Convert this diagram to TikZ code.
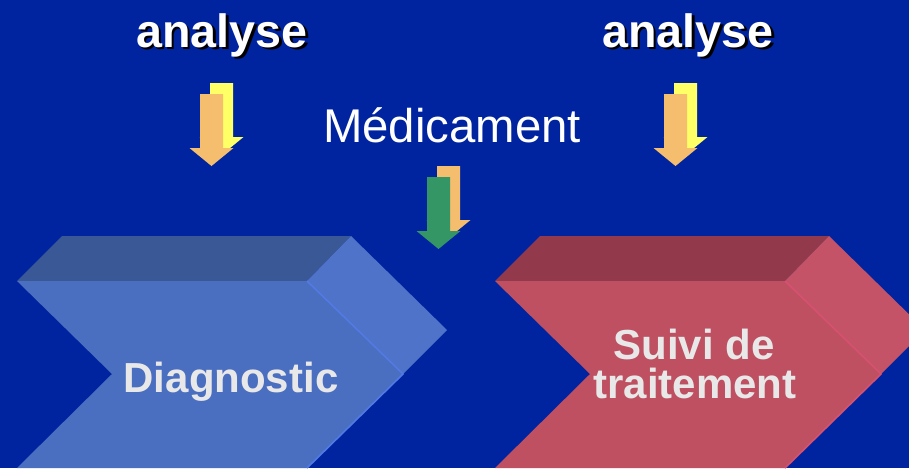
\documentclass[tikz,border=0pt]{standalone}
\usepackage{fontspec}
\setmainfont{Liberation Sans}
\usepackage{tikz}

\definecolor{fond}{RGB}{0,36,160}
\definecolor{jaune}{RGB}{255,255,102}
\definecolor{orangeclair}{RGB}{245,190,110}
\definecolor{vert}{RGB}{51,150,100}
\definecolor{bleuDessus}{RGB}{58,87,150}
\definecolor{bleuFace}{RGB}{74,110,192}
\definecolor{bleuCote}{RGB}{78,115,200}
\definecolor{bleuArete}{RGB}{82,122,228}
\definecolor{rougeDessus}{RGB}{146,58,76}
\definecolor{rougeFace}{RGB}{190,80,98}
\definecolor{rougeCote}{RGB}{197,83,103}
\definecolor{rougeArete}{RGB}{214,80,112}
\definecolor{texteClair}{RGB}{232,232,232}

% texte avec ombre portee
\newcommand{\avecombre}[1]{\makebox[0pt][l]{\hspace{1.9pt}\raisebox{-1.9pt}{\color{black}#1}}#1}

\begin{document}
\begin{tikzpicture}[x=0.75pt,y=0.75pt,yscale=-1,xscale=1,
  fleche/.pic={\path[pic actions] (0,0) -- (23,0) -- (23,-54) -- (33.5,-54) -- (11.5,-72) -- (-10.5,-54) -- (0,-54) -- cycle ;},
  titre/.style={anchor=base,inner sep=0pt,text=white,font=\bfseries\fontsize{35}{42}\selectfont},
  etape/.style={anchor=base,inner sep=0pt,text=texteClair,font=\bfseries\fontsize{31.5}{36}\selectfont}]

%set diagram left start at 0, and has height of 468
\useasboundingbox (0,0) rectangle (909,468);
\fill[fond] (0,0) rectangle (909,468);
\clip (0,0) rectangle (909,468);

%Shape: Chevron Diagnostic
\fill[bleuDessus] (17,281) -- (62,236) -- (351,236) -- (307,281) -- cycle ;
\fill[bleuCote] (307,281) -- (351,236) -- (447,330) -- (403,374) -- cycle ;
\fill[bleuFace] (17,281) -- (307,281) -- (403,374) -- (307,468) -- (17,468) -- (112,374) -- cycle ;
\draw[bleuArete,line width=1.2] (307,281) -- (403,374) -- (307,468) ;

%Shape: Chevron Suivi de traitement
\begin{scope}[shift={(478,0)}]
\fill[rougeDessus] (17,281) -- (62,236) -- (351,236) -- (307,281) -- cycle ;
\fill[rougeCote] (307,281) -- (351,236) -- (447,330) -- (403,374) -- cycle ;
\fill[rougeFace] (17,281) -- (307,281) -- (403,374) -- (307,468) -- (17,468) -- (112,374) -- cycle ;
\draw[rougeArete,line width=1.2] (307,281) -- (403,374) -- (307,468) ;
\end{scope}

%Shape: Arrows
\pic[fill=jaune] at (210,83) {fleche};
\pic[fill=orangeclair] at (200,94) {fleche};
\pic[fill=jaune] at (674,83) {fleche};
\pic[fill=orangeclair] at (664,94) {fleche};
\pic[fill=orangeclair] at (437,166) {fleche};
\pic[fill=vert] at (427,177) {fleche};

% Text Node
\node[titre] (analyseG) at (222,47) {\avecombre{analyse}};
% Text Node
\node[titre] (analyseD) at (688,47) {\avecombre{analyse}};
% Text Node
\node[anchor=base,inner sep=0pt,text=white,font=\fontsize{35.5}{42}\selectfont] (medicament) at (452,142) {Médicament};
% Text Node
\node[etape] (diagnostic) at (231,392) {Diagnostic};
% Text Node
\node[etape] (suivi) at (694,359) {Suivi de};
% Text Node
\node[etape] (traitement) at (695,398) {traitement};

\end{tikzpicture}
\end{document}
